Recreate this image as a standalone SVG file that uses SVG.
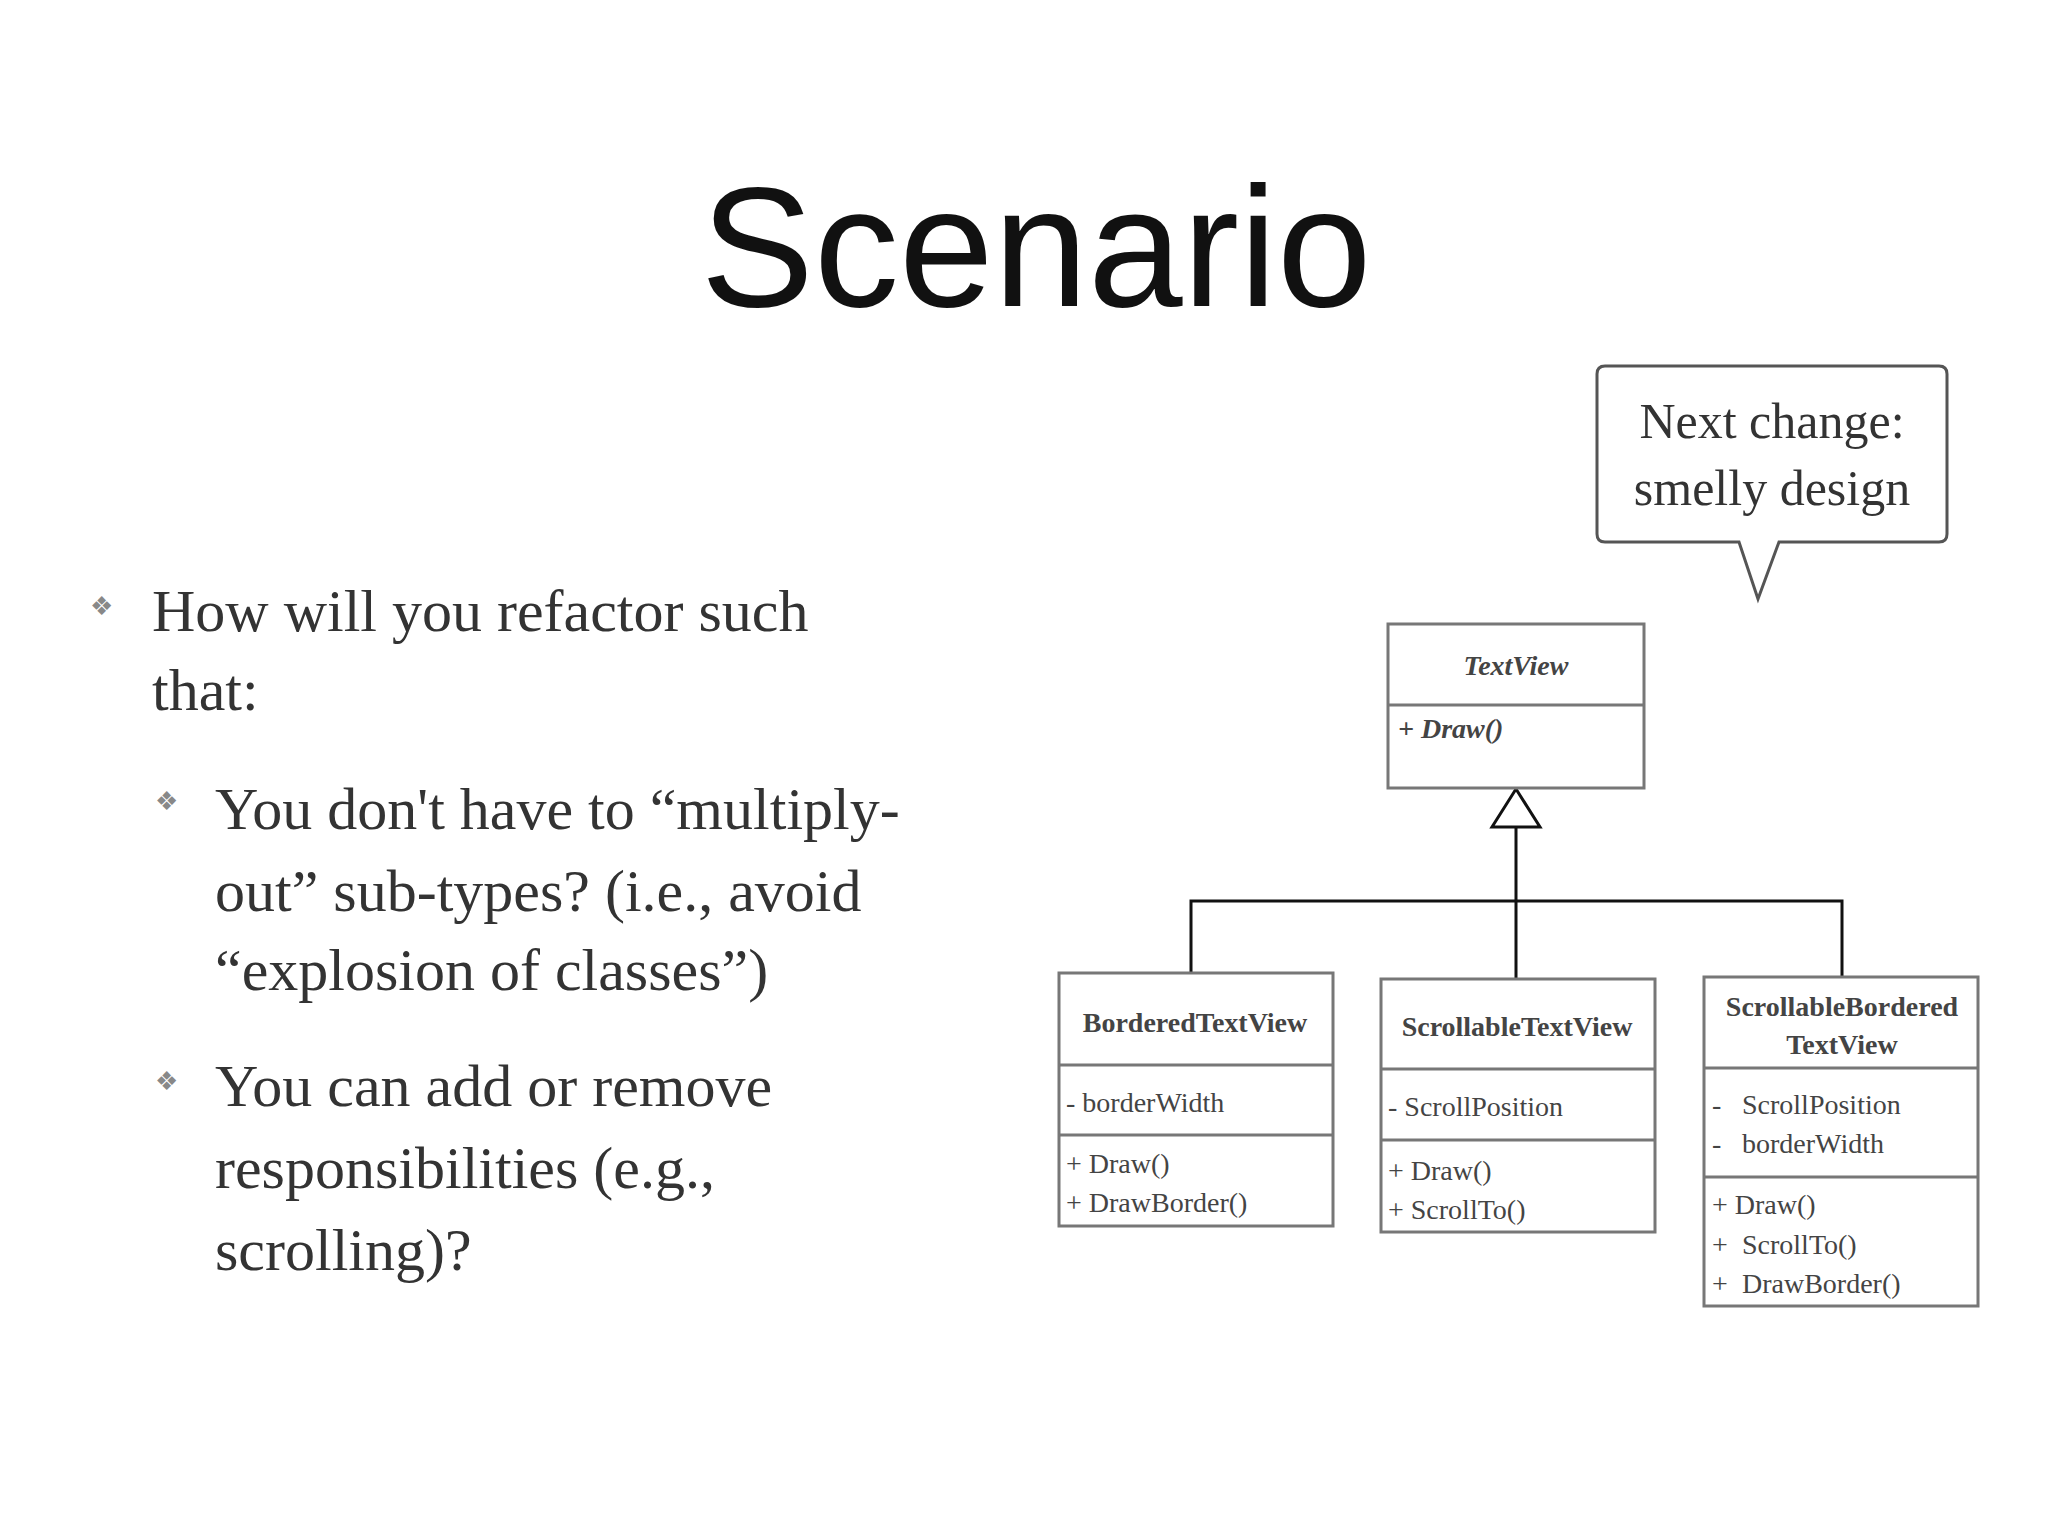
<svg xmlns="http://www.w3.org/2000/svg" width="2048" height="1536" viewBox="0 0 2048 1536">
<style>
.t{font-family:"Liberation Serif",serif;fill:#333}
.b{font-size:60px}
.bul{font-family:"DejaVu Sans",sans-serif;font-size:26px;fill:#888}
.box{fill:#fff;stroke:#777;stroke-width:3}
.div{stroke:#777;stroke-width:3}
.cn{font-family:"Liberation Serif",serif;font-size:28px;font-weight:bold;fill:#444;text-anchor:middle}
.m{font-family:"Liberation Serif",serif;font-size:28px;fill:#444}
.ln{stroke:#111;stroke-width:3;fill:none}
</style>
<rect width="2048" height="1536" fill="#fff"/>
<text x="1036" y="306" font-family="Liberation Sans,sans-serif" font-size="170" fill="#111" text-anchor="middle">Scenario</text>
<g id="bullets">
<text class="bul" x="90" y="615">❖</text>
<text class="t b" x="152" y="631">How will you refactor such</text>
<text class="t b" x="152" y="710">that:</text>
<text class="bul" x="155" y="810">❖</text>
<text class="t b" x="215" y="829">You don't have to “multiply-</text>
<text class="t b" x="215" y="911">out” sub-types? (i.e., avoid</text>
<text class="t b" x="215" y="990">“explosion of classes”)</text>
<text class="bul" x="155" y="1090">❖</text>
<text class="t b" x="215" y="1106">You can add or remove</text>
<text class="t b" x="215" y="1188">responsibilities (e.g.,</text>
<text class="t b" x="215" y="1270">scrolling)?</text>
</g>
<g id="bubble">
<path d="M1605,366 H1939 Q1947,366 1947,374 V534 Q1947,542 1939,542 H1779 L1758,599 L1739,542 H1605 Q1597,542 1597,534 V374 Q1597,366 1605,366 Z" fill="#fff" stroke="#555" stroke-width="3"/>
<text class="t" x="1772" y="438" font-size="50" text-anchor="middle">Next change:</text>
<text class="t" x="1772" y="505" font-size="50" text-anchor="middle">smelly design</text>
</g>
<g id="connectors">
<path class="ln" d="M1516,827 V979 M1191,973 V901 H1842 V977"/>
<polygon points="1516,789 1492,827 1540,827" fill="#fff" stroke="#111" stroke-width="3"/>
</g>
<g id="TextView">
<rect class="box" x="1388" y="624" width="256" height="164"/>
<line class="div" x1="1388" y1="705" x2="1644" y2="705"/>
<text class="cn" x="1516" y="675" font-style="italic">TextView</text>
<text class="m" x="1398" y="738" font-style="italic" font-weight="bold">+ Draw()</text>
</g>
<g id="BorderedTextView">
<rect class="box" x="1059" y="973" width="274" height="253"/>
<line class="div" x1="1059" y1="1065" x2="1333" y2="1065"/>
<line class="div" x1="1059" y1="1135" x2="1333" y2="1135"/>
<text class="cn" x="1195" y="1032">BorderedTextView</text>
<text class="m" x="1066" y="1112">- borderWidth</text>
<text class="m" x="1066" y="1173">+ Draw()</text>
<text class="m" x="1066" y="1212">+ DrawBorder()</text>
</g>
<g id="ScrollableTextView">
<rect class="box" x="1381" y="979" width="274" height="253"/>
<line class="div" x1="1381" y1="1069" x2="1655" y2="1069"/>
<line class="div" x1="1381" y1="1140" x2="1655" y2="1140"/>
<text class="cn" x="1517" y="1036">ScrollableTextView</text>
<text class="m" x="1388" y="1116">- ScrollPosition</text>
<text class="m" x="1388" y="1180">+ Draw()</text>
<text class="m" x="1388" y="1219">+ ScrollTo()</text>
</g>
<g id="ScrollableBorderedTextView">
<rect class="box" x="1704" y="977" width="274" height="329"/>
<line class="div" x1="1704" y1="1068" x2="1978" y2="1068"/>
<line class="div" x1="1704" y1="1177" x2="1978" y2="1177"/>
<text class="cn" x="1842" y="1016">ScrollableBordered</text>
<text class="cn" x="1842" y="1054">TextView</text>
<text class="m" x="1712" y="1114">-</text>
<text class="m" x="1742" y="1114">ScrollPosition</text>
<text class="m" x="1712" y="1153">-</text>
<text class="m" x="1742" y="1153">borderWidth</text>
<text class="m" x="1712" y="1214">+ Draw()</text>
<text class="m" x="1712" y="1254" font-size="18">+</text>
<text class="m" x="1742" y="1254">ScrollTo()</text>
<text class="m" x="1712" y="1293" font-size="18">+</text>
<text class="m" x="1742" y="1293">DrawBorder()</text>
</g>
</svg>
